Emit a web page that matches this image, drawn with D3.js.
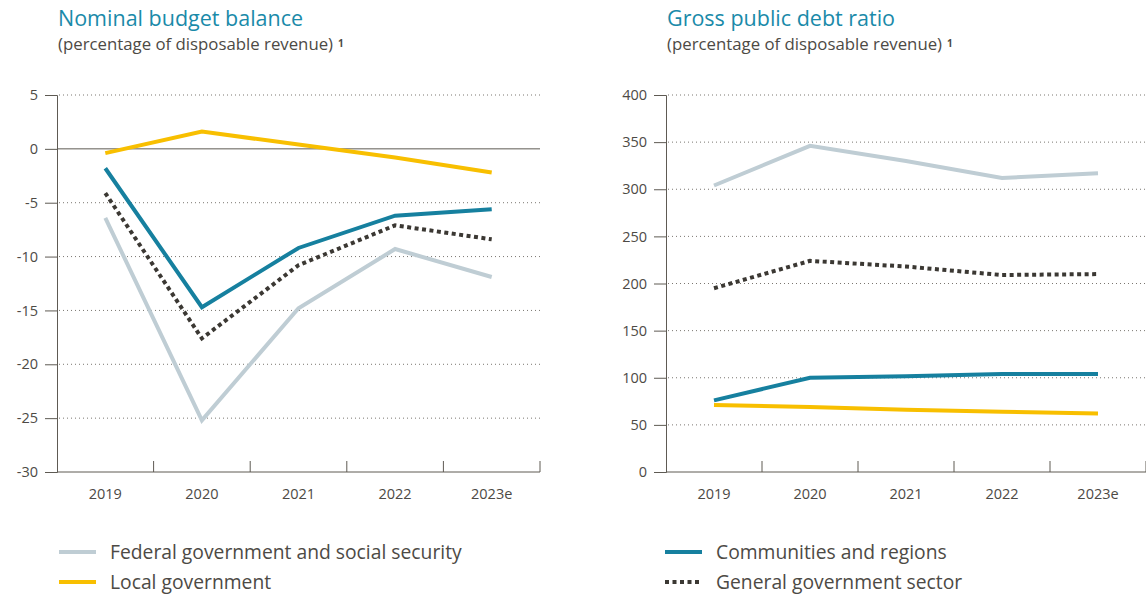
<!DOCTYPE html>
<html>
<head>
<meta charset="utf-8">
<script src="https://cdn.jsdelivr.net/npm/d3@7"></script>
<style>
  body { margin: 0; background: #fff; }
  svg { font-family: "Open Sans", "Noto Sans", sans-serif; }
</style>
</head>
<body>
<div id="chart"></div>
<script>
// categories (shared by both panels)
const years = ["2019", "2020", "2021", "2022", "2023e"];

// left panel: nominal budget balance
const balFederal = [-6.4, -25.2, -14.8, -9.3, -11.9];
const balCommunities = [-1.8, -14.7, -9.2, -6.2, -5.6];
const balLocal = [-0.4, 1.6, 0.4, -0.8, -2.2];
const balGeneral = [-4.1, -17.6, -10.8, -7.1, -8.4];
const balTicks = [5, 0, -5, -10, -15, -20, -25, -30];

// right panel: gross public debt ratio
const debtFederal = [304, 346, 330, 312, 317];
const debtCommunities = [76, 100, 101.5, 104, 104];
const debtLocal = [71, 69, 66, 64, 62];
const debtGeneral = [195, 224, 218, 209, 210];
const debtTicks = [400, 350, 300, 250, 200, 150, 100, 50, 0];

const legendLabels = [
  "Federal government and social security",
  "Local government",
  "Communities and regions",
  "General government sector"
];

const COL = {
  federal: "#bfcdd4",
  communities: "#16809f",
  local: "#f8bf00",
  general: "#3b3833",
  title: "#1a8aa9",
  text: "#4d4a45",
  axis: "#5e5a53"
};

const W = 1146, H = 594;
const svg = d3.select("#chart").append("svg")
  .attr("width", W).attr("height", H);

function panel(opt) {
  const g = svg.append("g");
  const x = d3.scaleBand().domain(years).range([opt.x0, opt.x1]);
  const y = d3.scaleLinear().domain(opt.domain).range([472, 95]);

  // title + subtitle
  g.append("text").attr("x", opt.x0 + 1).attr("y", 26)
    .attr("fill", COL.title).style("font-size", "21.5px")
    .text(opt.title);
  const sub = g.append("text").attr("x", opt.x0 + 1).attr("y", 50)
    .attr("fill", COL.text).style("font-size", "16.8px")
    .text("(percentage of disposable revenue)");
  sub.append("tspan").attr("dx", 5).attr("dy", -3)
    .style("font-size", "10px").style("font-weight", "bold").text("1");

  // dotted grid
  g.selectAll(".grid").data(opt.ticks.filter(t => t !== opt.domain[0] && t !== 0))
    .enter().append("line")
    .attr("x1", opt.x0 + 2).attr("x2", opt.gridEnd)
    .attr("y1", d => y(d)).attr("y2", d => y(d))
    .attr("stroke", "#7a7670").attr("stroke-width", 1)
    .attr("stroke-dasharray", "1,3");

  // zero line (left panel)
  if (opt.domain[0] < 0) {
    g.append("line").attr("x1", opt.x0).attr("x2", opt.gridEnd)
      .attr("y1", y(0)).attr("y2", y(0))
      .attr("stroke", COL.axis).attr("stroke-width", 1);
  }

  // y axis
  const yAxis = g.append("g").attr("transform", `translate(${opt.x0},0)`)
    .call(d3.axisLeft(y).tickValues(opt.ticks).tickSize(12).tickPadding(7)
      .tickFormat(d => d < 0 ? "-" + Math.abs(d) : d));
  yAxis.select(".domain").attr("stroke", COL.axis);
  yAxis.selectAll(".tick line").attr("stroke", COL.axis);
  yAxis.selectAll("text").attr("fill", COL.text).style("font-size", "14.5px")
    .style("font-family", "'Open Sans', sans-serif");

  // x axis: ticks at band boundaries, pointing up
  const xa = g.append("g");
  xa.append("line").attr("x1", opt.x0).attr("x2", opt.x1)
    .attr("y1", 472).attr("y2", 472).attr("stroke", COL.axis);
  const bounds = years.map(d => x(d) + x.bandwidth());
  xa.selectAll(".xt").data(bounds).enter().append("line")
    .attr("x1", d => d).attr("x2", d => d)
    .attr("y1", 472).attr("y2", 461).attr("stroke", COL.axis);
  xa.selectAll(".xl").data(years).enter().append("text")
    .attr("x", d => x(d) + x.bandwidth() / 2).attr("y", 499)
    .attr("text-anchor", "middle").attr("fill", COL.text)
    .style("font-size", "14.5px").text(d => d);

  const line = d3.line()
    .x((d, i) => x(years[i]) + x.bandwidth() / 2)
    .y(d => y(d));

  const series = [
    { v: opt.federal, c: COL.federal },
    { v: opt.local, c: COL.local },
    { v: opt.communities, c: COL.communities },
    { v: opt.general, c: COL.general, dash: "4,3.5" }
  ];
  series.forEach(s => {
    g.append("path").datum(s.v)
      .attr("d", line).attr("fill", "none")
      .attr("stroke", s.c).attr("stroke-width", 4)
      .attr("stroke-dasharray", s.dash || null);
  });
}

panel({
  x0: 57, x1: 540, gridEnd: 540,
  domain: [-30, 5], ticks: balTicks,
  title: "Nominal budget balance",
  federal: balFederal, communities: balCommunities, local: balLocal, general: balGeneral
});

panel({
  x0: 666, x1: 1146, gridEnd: 1146,
  domain: [0, 400], ticks: debtTicks,
  title: "Gross public debt ratio",
  federal: debtFederal, communities: debtCommunities, local: debtLocal, general: debtGeneral
});

// legend
const legendItems = [
  { label: legendLabels[0], c: COL.federal, x: 59, y: 552 },
  { label: legendLabels[1], c: COL.local, x: 59, y: 582 },
  { label: legendLabels[2], c: COL.communities, x: 665, y: 552 },
  { label: legendLabels[3], c: COL.general, x: 665, y: 582, dash: "4,3.5" }
];
const lg = svg.append("g");
legendItems.forEach(d => {
  lg.append("line").attr("x1", d.x).attr("x2", d.x + 37)
    .attr("y1", d.y).attr("y2", d.y)
    .attr("stroke", d.c).attr("stroke-width", 4)
    .attr("stroke-dasharray", d.dash || null);
  lg.append("text").attr("x", d.x + 51).attr("y", d.y + 6.5)
    .attr("fill", COL.text).style("font-size", "19.3px").text(d.label);
});
</script>
</body>
</html>
